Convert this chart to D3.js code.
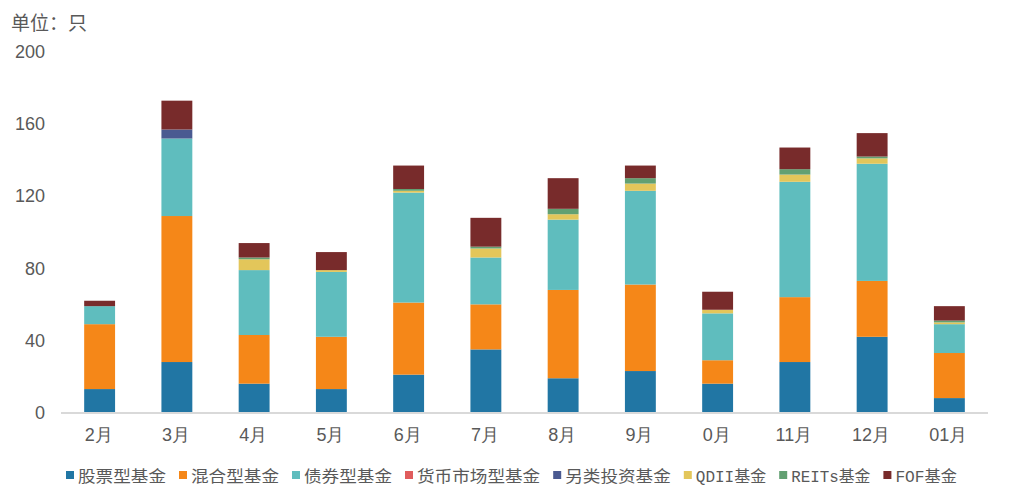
<!DOCTYPE html>
<html>
<head>
<meta charset="utf-8">
<script src="https://cdn.jsdelivr.net/npm/d3@7"></script>
<style>
  html, body { margin: 0; padding: 0; background: #fff; }
  svg { display: block; }
</style>
</head>
<body>
<svg id="chart" width="1011" height="497"></svg>
<script>
// ---- data ----
const categories = ["2月", "3月", "4月", "5月", "6月", "7月", "8月", "9月", "0月", "11月", "12月", "01月"];
const seriesNames = ["股票型基金", "混合型基金", "债券型基金", "货币市场型基金", "另类投资基金", "QDII基金", "REITs基金", "FOF基金"];
const stockFund  = [13, 28, 16, 13, 21, 35, 19, 23, 16, 28, 42, 8];
const mixedFund  = [36, 81, 27, 29, 40, 25, 49, 48, 13, 36, 31, 25];
const bondFund   = [10, 43, 36, 36, 61, 26, 39, 52, 26, 64, 65, 16];
const moneyFund  = [0, 0, 0, 0, 0, 0, 0, 0, 0, 0, 0, 0];
const altFund    = [0, 5, 0, 0, 0, 0, 0, 0, 0, 0, 0, 0];
const qdiiFund   = [0, 0, 6, 1, 1, 5, 3, 4, 2, 4, 3, 1];
const reitsFund  = [0, 0, 1, 0, 1, 1, 3, 3, 0, 3, 1, 1];
const fofFund    = [3, 16, 8, 10, 13, 16, 17, 7, 10, 12, 13, 8];
const yTicks = [0, 40, 80, 120, 160, 200];
const unitLabel = "单位：只";

const colors = ["#2176a4", "#f58718", "#5fbdbe", "#e05c5c", "#4a5a91", "#e3c65a", "#62a072", "#782b2b"];
const seriesValues = [stockFund, mixedFund, bondFund, moneyFund, altFund, qdiiFund, reitsFund, fofFund];

const rows = categories.map((c, i) => {
  const r = { cat: c };
  seriesNames.forEach((s, k) => r[s] = seriesValues[k][i]);
  return r;
});
const stacked = d3.stack().keys(seriesNames)(rows);

const svg = d3.select("#chart");
const x = d3.scaleBand().domain(categories).range([61, 988]).paddingInner(0.6).paddingOuter(0.3);
const y = d3.scaleLinear().domain([0, 200]).range([412.5, 52]);
const textColor = "#595959";

// unit label
svg.append("text").attr("x", 11).attr("y", 30)
  .attr("font-family", "'Noto Sans CJK SC', sans-serif").attr("font-size", 19)
  .attr("fill", textColor).text(unitLabel);

// y axis labels
const yAxis = d3.axisLeft(y).tickValues(yTicks).tickSize(0).tickPadding(0);
const yg = svg.append("g").attr("transform", "translate(45,0)").call(yAxis);
yg.select(".domain").remove();
yg.selectAll("text").attr("font-family", "'Liberation Sans', Arial, sans-serif")
  .attr("font-size", 18).attr("fill", textColor);

// bars
svg.append("g").selectAll("g").data(stacked).join("g")
  .attr("fill", (d, i) => colors[i])
  .selectAll("rect").data(d => d).join("rect")
  .attr("x", d => x(d.data.cat))
  .attr("width", x.bandwidth())
  .attr("y", d => y(d[1]))
  .attr("height", d => Math.max(0, y(d[0]) - y(d[1])));

// x axis
const xAxis = d3.axisBottom(x).tickSize(0).tickPadding(16);
const xg = svg.append("g").attr("transform", "translate(0,412.5)").call(xAxis);
xg.select(".domain").attr("stroke", "#d9d9d9").attr("stroke-width", 2)
  .attr("d", "M61,0.5H988");
xg.selectAll("text").attr("font-family", "'Liberation Sans', Arial, sans-serif")
  .attr("font-size", 18).attr("fill", textColor).attr("dy", "0.71em").attr("dx", -1);

// legend
const fs = 17.6;
function textWidth(s) {
  let w = 0;
  for (const ch of s) w += (ch.charCodeAt(0) < 256 ? fs / 2 : fs);
  return w;
}
let lx = 66;
const legend = svg.append("g");
seriesNames.forEach((name, i) => {
  legend.append("rect").attr("x", lx).attr("y", 471).attr("width", 8).attr("height", 8).attr("fill", colors[i]);
  const tw = textWidth(name);
  legend.append("text").attr("x", lx + 12).attr("y", 482)
    .attr("font-family", "'Liberation Mono', 'Noto Sans CJK SC', monospace")
    .attr("font-size", 16).attr("fill", textColor)
    .attr("textLength", tw).attr("lengthAdjust", "spacingAndGlyphs")
    .text(name);
  lx += 12 + tw + 13;
});
</script>
</body>
</html>
